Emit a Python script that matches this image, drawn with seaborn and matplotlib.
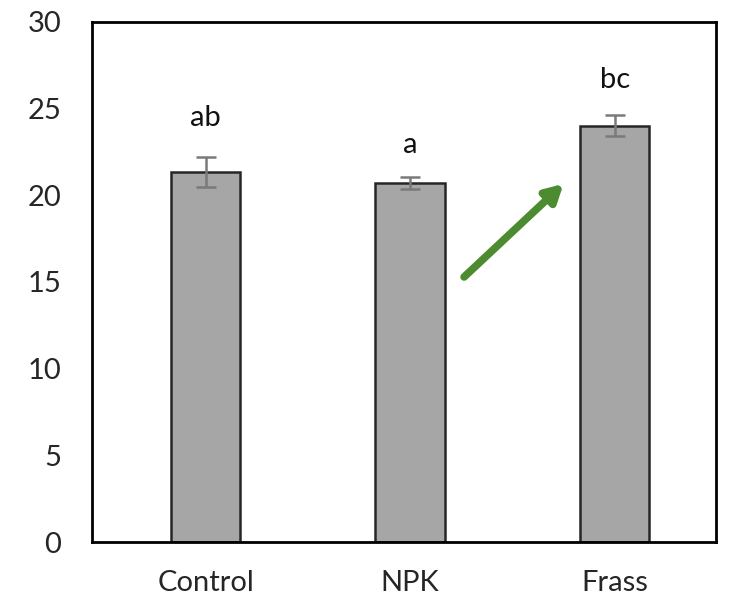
import numpy as np
import pandas as pd
import matplotlib
matplotlib.use("Agg")
import matplotlib.pyplot as plt
import seaborn as sns

categories = ["Control", "NPK", "Frass"]
means = [21.35, 20.7, 24.02]
errors = [0.88, 0.34, 0.6]
letters = ["ab", "a", "bc"]
letter_y = [24.45, 22.9, 26.65]

sns.set_style("white")
plt.rcParams['font.family'] = ['Lato', 'DejaVu Sans']

df = pd.DataFrame({"treatment": categories, "value": means})

fig = plt.figure(figsize=(7.3, 5.96), dpi=100)
ax = fig.add_axes([0.126, 0.0906, 0.855, 0.8725])

sns.barplot(data=df, x="treatment", y="value", ax=ax, color="#a6a6a6",
            width=0.34, edgecolor="#262626", linewidth=1.8, errorbar=None,
            saturation=1)

xpos = np.arange(len(categories))
ax.errorbar(xpos, means, yerr=errors, fmt="none", ecolor="#7a7a7a",
            elinewidth=1.8, capsize=7, capthick=1.8, zorder=5)

for x, t, y in zip(xpos, letters, letter_y):
    ax.text(x, y, t, ha="center", va="center", fontsize=21, color="#111111")

ax.annotate("", xy=(1.75, 20.66), xytext=(1.264, 15.29),
            arrowprops=dict(arrowstyle="-|>,head_length=1.0,head_width=0.55",
                            color="#4d8b31", lw=5.5, shrinkA=0, shrinkB=0))

ax.set_ylim(0, 30)
ax.set_yticks([0, 5, 10, 15, 20, 25, 30])
ax.set_xlim(-0.555, 2.496)
ax.set_xlabel("")
ax.set_ylabel("")
ax.tick_params(axis="y", length=0, pad=22, labelsize=21)
ax.tick_params(axis="x", length=0, pad=20, labelsize=21)
for s in ax.spines.values():
    s.set_visible(True)
    s.set_color("black")
    s.set_linewidth(2)

fig.savefig("out.png", dpi=100)
